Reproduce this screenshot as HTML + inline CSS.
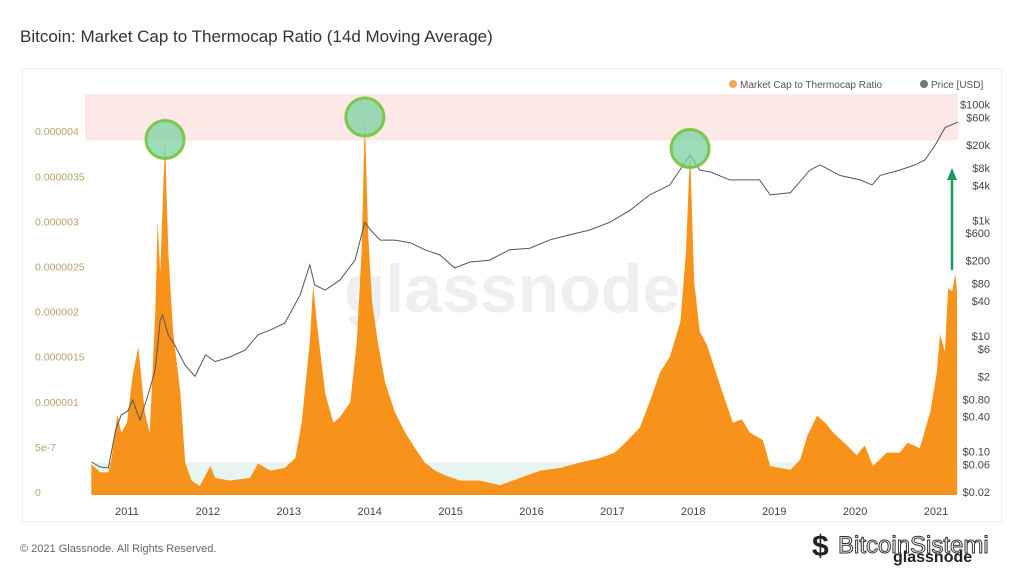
<!DOCTYPE html>
<html><head><meta charset="utf-8"><style>
body{margin:0;width:1024px;height:576px;background:#fff;font-family:"Liberation Sans",sans-serif;overflow:hidden;position:relative}
.title{position:absolute;left:20px;top:27px;font-size:17px;color:#333}
.card{position:absolute;left:22px;top:68px;width:980px;height:454px;border:1px solid #eee;box-sizing:border-box}
.foot{position:absolute;left:20px;top:543px;font-size:11px;color:#666}
</style></head><body>
<div class="title">Bitcoin: Market Cap to Thermocap Ratio (14d Moving Average)</div>
<div class="card"></div>
<svg id="chart" width="1024" height="576" style="position:absolute;left:0;top:0"></svg>
<div class="foot">© 2021 Glassnode. All Rights Reserved.</div>
<script>
const ratioDates=[2010.56,2010.67,2010.77,2010.81,2010.88,2010.93,2011.0,2011.07,2011.14,2011.22,2011.28,2011.35,2011.38,2011.41,2011.47,2011.51,2011.57,2011.66,2011.72,2011.80,2011.90,2012.03,2012.09,2012.27,2012.52,2012.62,2012.77,2012.95,2013.08,2013.16,2013.26,2013.30,2013.36,2013.45,2013.55,2013.63,2013.76,2013.84,2013.90,2013.94,2013.98,2014.03,2014.10,2014.19,2014.31,2014.44,2014.56,2014.68,2014.81,2014.93,2015.12,2015.36,2015.61,2015.86,2016.11,2016.36,2016.60,2016.85,2017.03,2017.16,2017.34,2017.46,2017.59,2017.71,2017.84,2017.91,2017.96,2018.01,2018.08,2018.17,2018.33,2018.49,2018.60,2018.70,2018.86,2018.95,2019.20,2019.32,2019.41,2019.53,2019.63,2019.73,2019.90,2020.02,2020.12,2020.22,2020.39,2020.55,2020.65,2020.80,2020.93,2021.01,2021.05,2021.11,2021.15,2021.20,2021.24,2021.26];
const ratioValues=[3.4,2.5,2.5,4.1,8.9,6.9,8.0,13.3,16.4,9.2,6.9,20.3,30.3,24.6,39.3,27.0,18.1,11.3,3.6,1.6,1.0,3.2,1.9,1.6,1.9,3.5,2.7,3.0,4.1,8.0,17.0,23.2,18.1,11.3,8.0,8.6,10.3,17.0,27.0,41.8,29.1,21.4,17.0,12.5,9.2,6.9,5.2,3.6,2.7,2.2,1.6,1.6,1.1,1.9,2.7,3.0,3.6,4.1,4.7,5.8,7.5,10.3,13.6,15.3,19.2,27.0,38.3,23.7,18.1,16.6,12.2,8.0,8.4,6.9,6.1,3.2,2.8,3.9,6.6,8.8,8.0,6.9,5.5,4.4,5.5,3.2,4.7,4.7,5.8,5.2,9.2,13.6,17.8,15.9,22.9,22.6,24.5,22.6]; // units of 1e-7
const priceDates=[2010.56,2010.67,2010.77,2010.86,2010.93,2011.01,2011.07,2011.16,2011.26,2011.35,2011.41,2011.44,2011.51,2011.59,2011.72,2011.84,2011.97,2012.09,2012.27,2012.46,2012.62,2012.77,2012.95,2013.14,2013.26,2013.32,2013.45,2013.63,2013.82,2013.94,2014.01,2014.13,2014.31,2014.5,2014.68,2014.87,2015.05,2015.24,2015.48,2015.73,2015.98,2016.23,2016.47,2016.72,2016.97,2017.22,2017.46,2017.71,2017.96,2018.08,2018.21,2018.45,2018.82,2018.95,2019.2,2019.44,2019.57,2019.81,2020.06,2020.21,2020.31,2020.55,2020.74,2020.86,2020.99,2021.11,2021.27];
const priceValues=[0.066,0.054,0.052,0.24,0.43,0.5,0.78,0.35,0.95,2.6,18.9,23,10.4,7,3.1,2,4.7,3.6,4.3,5.7,10.5,12.6,16.7,51,170,76,62,92,206,930,680,456,456,410,310,250,150,190,204,310,330,460,560,680,930,1500,2750,4100,13500,7400,6900,5000,5000,2750,3000,7400,9100,6000,5000,4100,6000,7400,9100,11000,20000,40000,50000];
const yearTicks=[2011,2012,2013,2014,2015,2016,2017,2018,2019,2020,2021];
const leftTicks=[0,5,10,15,20,25,30,35,40];
const leftTickLabels=["0","5e-7","0.000001","0.0000015","0.000002","0.0000025","0.000003","0.0000035","0.000004"];
const priceTicks=[100000,60000,20000,8000,4000,1000,600,200,80,40,10,6,2,0.8,0.4,0.1,0.06,0.02];
const priceTickLabels=["$100k","$60k","$20k","$8k","$4k","$1k","$600","$200","$80","$40","$10","$6","$2","$0.80","$0.40","$0.10","$0.06","$0.02"];
const peakMarks=[2011.47,2013.94,2017.96];

const X0=91,X1=958,Y0=495;
const xs=t=>127+(t-2011)*80.9;
const ys=v=>Y0-v*9.02;
const yp=p=>492-(Math.log10(p)+1.7)*57.8;
const svg=document.getElementById('chart');
const NS='http://www.w3.org/2000/svg';
function mk(tag,attrs,parent){const e=document.createElementNS(NS,tag);for(const k in attrs)e.setAttribute(k,attrs[k]);(parent||svg).appendChild(e);return e;}

let r=mk('rect',{x:85,y:94,width:X1-85,height:ys(39.3)-94,fill:'#fde8e8'});


r=mk('rect',{x:X0,y:ys(3.6),width:X1-X0,height:Y0-ys(3.6),fill:'#e6f5f0'});



let wm=mk('text',{x:512,y:312,'text-anchor':'middle','font-size':68,fill:'#efefef','font-weight':'bold'});
wm.textContent='glassnode';



let d='M'+xs(ratioDates[0])+','+Y0;
ratioDates.forEach((t,i)=>{d+=' L'+xs(t).toFixed(1)+','+ys(ratioValues[i]).toFixed(1);});
d+=' L'+xs(ratioDates[ratioDates.length-1])+','+Y0+' Z';
let area=mk('path',{d:d,fill:'#f7931a'});



let pd='';
priceDates.forEach((t,i)=>{pd+=(i?' L':'M')+xs(t).toFixed(1)+','+yp(priceValues[i]).toFixed(1);});
let pl=mk('path',{d:pd,fill:'none',stroke:'#555','stroke-width':1});



peakMarks.forEach(t=>{
  let i=ratioDates.indexOf(t);
  let c=mk('circle',{cx:xs(t),cy:ys(ratioValues[i])-1,r:19,fill:'rgba(120,210,160,0.75)',stroke:'#7cc84a','stroke-width':3});
  
  
});

let ar=mk('line',{x1:952,y1:270,x2:952,y2:178,stroke:'#1a9a5a','stroke-width':2.5});


let ah=mk('polygon',{points:'947,180 957,180 952,168',fill:'#1a9a5a'});



yearTicks.forEach(y=>{
  let t=mk('text',{x:xs(y),y:515,'text-anchor':'middle','font-size':11,fill:'#444'});
  t.textContent=y;
  
  
});
leftTicks.forEach((v,i)=>{
  let t=mk('text',{x:35,y:ys(v)+1,'font-size':10.5,fill:'#b8a266'});
  t.textContent=leftTickLabels[i];
  
  
});
priceTicks.forEach((p,i)=>{
  let t=mk('text',{x:990,y:yp(p)+4,'text-anchor':'end','font-size':11,fill:'#444'});
  t.textContent=priceTickLabels[i];
  
  
});

let g=mk('g',{});


let c1=mk('circle',{cx:733,cy:84,r:4,fill:'#f5a85a'},g);


let l1=mk('text',{x:740,y:88,'font-size':10,fill:'#555'},g);
l1.textContent='Market Cap to Thermocap Ratio';


let c2=mk('circle',{cx:924,cy:84,r:4,fill:'#777'},g);


let l2=mk('text',{x:931,y:88,'font-size':10,fill:'#555'},g);
l2.textContent='Price [USD]';



let lg=mk('text',{x:812,y:556,'font-size':30,'font-weight':'bold',fill:'#222'});
lg.textContent='$';


let lt=mk('text',{x:838,y:553,'font-size':24,fill:'#fff',stroke:'#333','stroke-width':1});
lt.textContent='BitcoinSistemi';


let lt2=mk('text',{x:893,y:562,'font-size':16,'font-weight':'bold',fill:'#222'});
lt2.textContent='glassnode';


</script>
</body></html>
